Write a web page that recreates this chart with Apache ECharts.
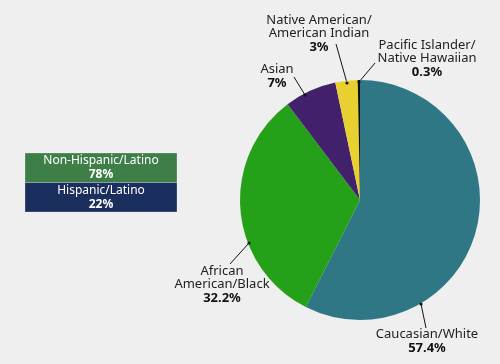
<!DOCTYPE html>
<html><head><meta charset="utf-8">
<script src="https://cdn.jsdelivr.net/npm/echarts@6/dist/echarts.min.js"></script>
<style>html,body{margin:0;padding:0;background:#efefef}#c{width:500px;height:364px}</style>
</head><body><div id="c"></div>
<script>
const raceNames = ['Caucasian/White', 'African\nAmerican/Black', 'Asian', 'Native American/\nAmerican Indian', 'Pacific Islander/\nNative Hawaiian'];
const raceValues = [57.4, 32.2, 7, 3, 0.3];
const raceLabels = ['57.4%', '32.2%', '7%', '3%', '0.3%'];
const ethnicityNames = ['Non-Hispanic/Latino', 'Hispanic/Latino'];
const ethnicityLabels = ['78%', '22%'];

const raceColors = ['#2f7784', '#25a019', '#43206c', '#e8d030', '#111111'];
const labelPos = [
  {x: 427, y: 328}, {x: 222, y: 265}, {x: 277, y: 63}, {x: 319, y: 14}, {x: 427, y: 39}
];
const linePts = [
  [[421, 304], [426, 328]],
  [[249, 243], [230, 264]],
  [[305, 95], [294, 77]],
  [[347, 83], [336, 44]],
  [[359, 82], [375, 63]]
];
const ethColors = ['#3e7e47', '#1b2f5e'];
const FONT = '"Noto Sans", sans-serif';

const chart = echarts.init(document.getElementById('c'));
const graphics = [];
ethnicityNames.forEach((n, i) => {
  const y0 = 153 + i * 29.5;
  graphics.push({type: 'rect', shape: {x: 25, y: y0, width: 152, height: 29.5},
    style: {fill: ethColors[i], stroke: 'rgba(255,255,255,0.5)', lineWidth: 0.5}});
  graphics.push({type: 'text', x: 101, y: y0 + 2,
    style: {text: n, fill: '#fff', font: '12px ' + FONT, textAlign: 'center', textVerticalAlign: 'top'}});
  graphics.push({type: 'text', x: 101, y: y0 + 16,
    style: {text: ethnicityLabels[i], fill: '#fff', font: 'bold 12px ' + FONT, textAlign: 'center', textVerticalAlign: 'top'}});
});
linePts.forEach(p => {
  graphics.push({type: 'circle', shape: {cx: p[0][0], cy: p[0][1], r: 1.6}, style: {fill: '#111'}, z: 100});
});

chart.setOption({
  backgroundColor: '#efefef',
  animation: false,
  graphic: graphics,
  series: [{
    type: 'pie',
    center: [360, 200],
    radius: 120,
    startAngle: 90,
    clockwise: true,
    data: raceNames.map((n, i) => ({name: n, value: raceValues[i], itemStyle: {color: raceColors[i]}})),
    label: {
      show: true,
      overflow: 'none',
      formatter: p => '{n|' + p.name.split('\n').join('}\n{n|') + '}\n{b|' + raceLabels[p.dataIndex] + '}',
      rich: {
        n: {fontFamily: FONT, fontSize: 13, color: '#222', lineHeight: 13, align: 'center'},
        b: {fontFamily: FONT, fontSize: 13, fontWeight: 'bold', color: '#111', lineHeight: 14, align: 'center'}
      },
      align: 'center'
    },
    labelLine: {show: true, length: 10, length2: 5, lineStyle: {color: '#111', width: 1}},
    labelLayout: p => ({x: labelPos[p.dataIndex].x, y: labelPos[p.dataIndex].y, align: 'center', verticalAlign: 'top',
      labelLinePoints: linePts[p.dataIndex]})
  }]
});
</script></body></html>
